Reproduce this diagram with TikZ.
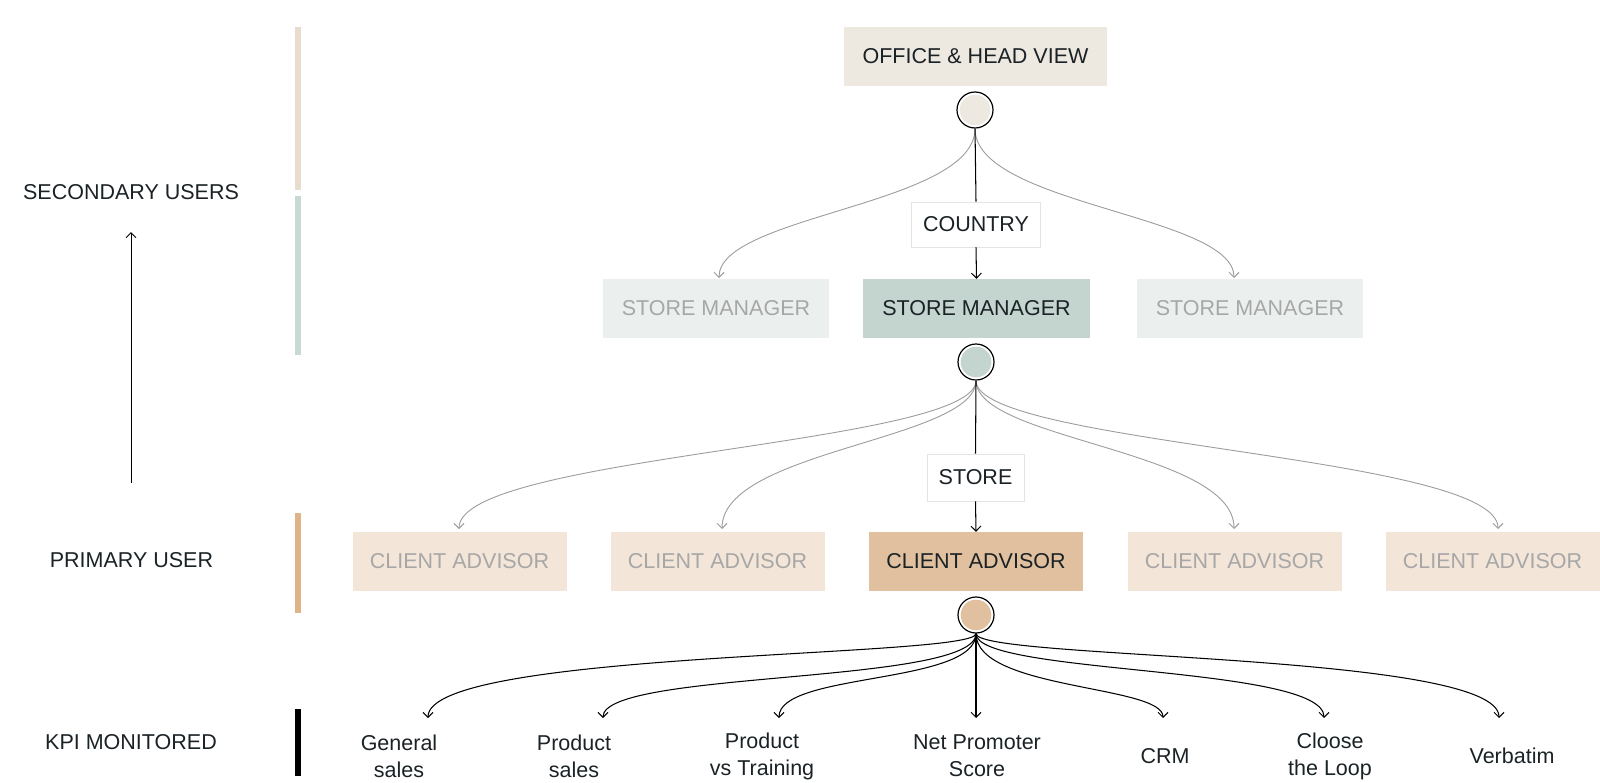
\documentclass[tikz,border=0pt]{standalone}
\usepackage{fontspec}
\setmainfont{Liberation Sans}
\usetikzlibrary{arrows.meta}
\definecolor{txt}{HTML}{1B2226}
\definecolor{greytxt}{HTML}{A7A7A7}
\definecolor{headfill}{HTML}{EDE8E0}
\definecolor{headbar}{HTML}{E7DCCD}
\definecolor{smdark}{HTML}{C3D5CE}
\definecolor{smlight}{HTML}{EBF0EE}
\definecolor{smbar}{HTML}{C8D9D2}
\definecolor{cadark}{HTML}{E0C09E}
\definecolor{calight}{HTML}{F3E5D8}
\definecolor{cabar}{HTML}{DEB387}
\definecolor{curvegrey}{HTML}{9C9C9C}
\definecolor{lblborder}{HTML}{E4E4E4}
\tikzset{
  every node/.style={font=\fontsize{21.5}{27}\selectfont, text=txt},
  box/.style={rectangle, inner sep=0pt, minimum height=59pt},
  headbox/.style={box, fill=headfill, minimum width=263pt},
  smbox/.style={box, fill=smlight, text=greytxt, minimum width=226pt},
  smboxsel/.style={box, fill=smdark, minimum width=227pt},
  cabox/.style={box, fill=calight, text=greytxt, minimum width=214pt},
  caboxsel/.style={box, fill=cadark, minimum width=214pt},
  hub/.style={circle, draw=black, fill=white, line width=1.2pt, minimum size=36pt, inner sep=0pt,
    path picture={\fill[#1] (path picture bounding box.center) circle (15.3pt);}},
  lbl/.style={rectangle, fill=white, draw=lblborder, line width=0.6pt, inner sep=0pt, minimum height=45pt},
  kpi/.style={align=center, inner sep=0pt},
  side/.style={align=center, inner sep=0pt},
  tip/.style={-{Straight Barb[length=5pt,width=10pt,line width=1pt]}},
  blackline/.style={draw=black, line width=1.05pt},
  greyline/.style={draw=curvegrey, line width=0.9pt},
  bar/.style={inner sep=0pt, minimum width=6pt}
}
\begin{document}
\begin{tikzpicture}[x=1pt,y=-1pt]
\useasboundingbox (0,0) rectangle (1600,782);

% left column bars
\node[bar, fill=headbar, minimum height=163pt] (bar1) at (298,108.5) {};
\node[bar, fill=smbar, minimum height=159pt] (bar2) at (298,275.5) {};
\node[bar, fill=cabar, minimum height=100pt] (bar3) at (298,563) {};
\node[bar, fill=black, minimum height=67pt] (bar4) at (298,742.5) {};

% left labels
\node[side] (lsec) at (131,192) {SECONDARY USERS};
\node[side] (lpri) at (131.5,560) {PRIMARY USER};
\node[side] (lkpi) at (131,742) {KPI MONITORED};
\coordinate (up1) at (131,483);
\coordinate (up2) at (131,232);
\draw[tip, line width=1pt] (up1) -- (up2);

% level 1
\node[headbox] (office) at (975.5,56.5) {OFFICE \& HEAD VIEW};
\node[hub=headfill] (c1) at (975,110) {};

% level 2
\node[smbox] (sm1) at (716,308.5) {STORE MANAGER};
\node[smboxsel] (sm2) at (976.5,308.5) {STORE MANAGER};
\node[smbox] (sm3) at (1250,308.5) {STORE MANAGER};
\node[hub=smdark] (c2) at (976,362) {};
\node[lbl, minimum width=129pt] (country) at (976,224.5) {COUNTRY};

% level 3
\node[cabox] (ca1) at (459.5,561.5) {CLIENT ADVISOR};
\node[cabox] (ca2) at (717.5,561.5) {CLIENT ADVISOR};
\node[caboxsel] (ca3) at (976,561.5) {CLIENT ADVISOR};
\node[cabox] (ca4) at (1234.5,561.5) {CLIENT ADVISOR};
\node[cabox] (ca5) at (1492.5,561.5) {CLIENT ADVISOR};
\node[hub=cadark] (c3) at (976,615) {};
\node[lbl, minimum width=97pt, minimum height=47pt] (store) at (975.5,477.5) {STORE};

% KPI labels
\node[kpi] (k1) at (399,756) {General\\sales};
\node[kpi] (k2) at (574,756) {Product\\sales};
\node[kpi] (k3) at (762,756) {Product\\vs Training};
\node[kpi] (k4) at (977,756) {Net Promoter\\Score};
\node[kpi] (k5) at (1165,756) {CRM};
\node[kpi] (k6) at (1330,756) {Cloose\\the Loop};
\node[kpi] (k7) at (1512,756) {Verbatim};

% arrow end points
\coordinate (sm1t) at (719,278);
\coordinate (sm3t) at (1234,278);
\coordinate (ca1t) at (459,529);
\coordinate (ca2t) at (722,529);
\coordinate (ca4t) at (1234,529);
\coordinate (ca5t) at (1498,529);
\coordinate (k1t) at (428,718);
\coordinate (k2t) at (603,718);
\coordinate (k3t) at (779,718);
\coordinate (k4t) at (976,718);
\coordinate (k5t) at (1163,718);
\coordinate (k6t) at (1324,718);
\coordinate (k7t) at (1499,718);

% level 1 -> level 2
\draw[greyline, tip] (c1.south) .. controls (975,205) and (719,215) .. (sm1t);
\draw[greyline, tip] (c1.south) .. controls (975,205) and (1234,215) .. (sm3t);
\draw[blackline] (c1.south) -- (country.north);
\draw[blackline, tip] (country.south) -- (sm2.north);

% level 2 -> level 3
\draw[greyline, tip] (c2.south) .. controls (976,445) and (459,455) .. (ca1t);
\draw[greyline, tip] (c2.south) .. controls (976,440) and (722,450) .. (ca2t);
\draw[greyline, tip] (c2.south) .. controls (976,440) and (1234,450) .. (ca4t);
\draw[greyline, tip] (c2.south) .. controls (976,445) and (1498,455) .. (ca5t);
\draw[blackline] (c2.south) -- (store.north);
\draw[blackline, tip] (store.south) -- (ca3.north);

% level 3 -> KPIs
\draw[blackline, tip] (c3.south) .. controls (976,658) and (428,650) .. (k1t);
\draw[blackline, tip] (c3.south) .. controls (976,685) and (603,670) .. (k2t);
\draw[blackline, tip] (c3.south) .. controls (976,685) and (779,672) .. (k3t);
\draw[blackline, tip] (c3.south) -- (k4t);
\draw[blackline, tip] (c3.south) .. controls (976,690) and (1163,685) .. (k5t);
\draw[blackline, tip] (c3.south) .. controls (976,675) and (1324,665) .. (k6t);
\draw[blackline, tip] (c3.south) .. controls (976,660) and (1499,652) .. (k7t);
\end{tikzpicture}
\end{document}
